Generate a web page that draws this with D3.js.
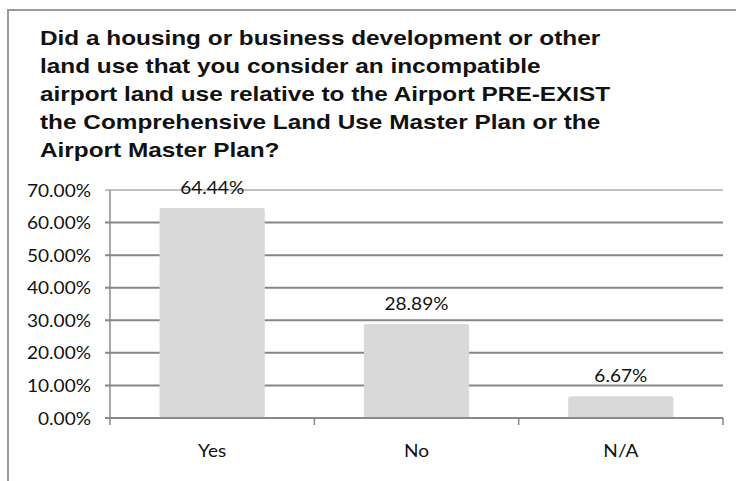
<!DOCTYPE html>
<html>
<head>
<meta charset="utf-8">
<script src="https://cdn.jsdelivr.net/npm/d3@7"></script>
<style>
  html, body { margin: 0; padding: 0; background: #fff; }
  svg { display: block; }
</style>
</head>
<body>
<svg id="chart" width="736" height="481"></svg>
<script>
// Survey question and answers
const titleLines = [
  "Did a housing or business development or other",
  "land use that you consider an incompatible",
  "airport land use relative to the Airport PRE-EXIST",
  "the Comprehensive Land Use Master Plan or the",
  "Airport Master Plan?"
];
const categories = ["Yes", "No", "N/A"];
const values = [64.44, 28.89, 6.67];
const yTicks = [0, 10, 20, 30, 40, 50, 60, 70];

const svg = d3.select("#chart");
const W = 736, H = 481;
const labelFont = "Lato, 'Open Sans', sans-serif";
const labelSize = 18;
const labelScaleX = 1.06;

// Outer frame (runs off the right and bottom edges)
svg.append("rect")
  .attr("x", 8).attr("y", 10)
  .attr("width", W + 20).attr("height", H + 20)
  .attr("fill", "#fff")
  .attr("stroke", "#9a9a9a")
  .attr("stroke-width", 2);

// Title
const titleScaleX = 1.16;
svg.append("g")
  .attr("transform", `translate(40,0) scale(${titleScaleX},1)`)
  .selectAll("text")
  .data(titleLines)
  .join("text")
  .attr("x", 0)
  .attr("y", (d, i) => 45 + i * 28)
  .attr("font-family", "'Liberation Sans', Arial, sans-serif")
  .attr("font-weight", "bold")
  .attr("font-size", 21)
  .attr("fill", "#111")
  .text(d => d);

// Plot area
const plot = { left: 110, right: 723, top: 190, bottom: 418 };

const x = d3.scaleBand()
  .domain(categories)
  .range([plot.left, plot.right])
  .paddingInner(0.485)
  .paddingOuter(0.2425);

const y = d3.scaleLinear()
  .domain([0, 70])
  .range([plot.bottom, plot.top]);

// Horizontal gridlines with outside tick marks
svg.append("g")
  .selectAll("line")
  .data(yTicks.filter(t => t > 0))
  .join("line")
  .attr("x1", plot.left - 5)
  .attr("x2", plot.right)
  .attr("y1", d => y(d))
  .attr("y2", d => y(d))
  .attr("stroke", "#878787")
  .attr("stroke-width", d => d === 70 ? 1 : 2);

// Y axis tick labels
svg.append("g")
  .selectAll("text")
  .data(yTicks)
  .join("text")
  .attr("transform", d => `translate(91,${y(d) + 6.5}) scale(${labelScaleX},1)`)
  .attr("text-anchor", "end")
  .attr("font-family", labelFont)
  .attr("font-size", labelSize)
  .attr("fill", "#111")
  .text(d => d3.format(".2f")(d) + "%");

// Bars
svg.append("g")
  .selectAll("rect")
  .data(values)
  .join("rect")
  .attr("x", (d, i) => x(categories[i]))
  .attr("y", d => y(d))
  .attr("width", x.bandwidth())
  .attr("height", d => y(0) - y(d))
  .attr("rx", 2)
  .attr("fill", "#d9d9d9");

// Y axis line
svg.append("line")
  .attr("x1", plot.left).attr("x2", plot.left)
  .attr("y1", plot.top).attr("y2", plot.bottom + 7)
  .attr("stroke", "#8c8c8c")
  .attr("stroke-width", 1.5);

// X axis line and category separators
svg.append("line")
  .attr("x1", plot.left - 5).attr("x2", plot.right)
  .attr("y1", plot.bottom).attr("y2", plot.bottom)
  .attr("stroke", "#8a8a8a")
  .attr("stroke-width", 2);

const step = x.step();
svg.append("g")
  .selectAll("line")
  .data(categories)
  .join("line")
  .attr("x1", (d, i) => plot.left + (i + 1) * step)
  .attr("x2", (d, i) => plot.left + (i + 1) * step)
  .attr("y1", plot.bottom)
  .attr("y2", plot.bottom + 7)
  .attr("stroke", "#8a8a8a")
  .attr("stroke-width", 1.5);

// Value labels above bars
svg.append("g")
  .selectAll("text")
  .data(values)
  .join("text")
  .attr("transform", (d, i) =>
    `translate(${x(categories[i]) + x.bandwidth() / 2},${y(d) - 14}) scale(${labelScaleX},1)`)
  .attr("text-anchor", "middle")
  .attr("font-family", labelFont)
  .attr("font-size", labelSize)
  .attr("fill", "#111")
  .text(d => d3.format(".2f")(d) + "%");

// Category labels
svg.append("g")
  .selectAll("text")
  .data(categories)
  .join("text")
  .attr("transform", d => `translate(${x(d) + x.bandwidth() / 2},457) scale(${labelScaleX},1)`)
  .attr("text-anchor", "middle")
  .attr("font-family", labelFont)
  .attr("font-size", labelSize)
  .attr("fill", "#111")
  .text(d => d);
</script>
</body>
</html>
